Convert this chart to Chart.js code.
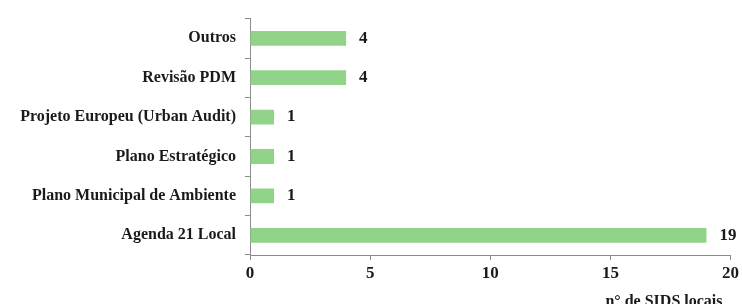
<!DOCTYPE html>
<html>
<head>
<meta charset="utf-8">
<script src="https://cdn.jsdelivr.net/npm/chart.js@4/dist/chart.umd.min.js"></script>
<style>
  html, body { margin: 0; padding: 0; background: #fff; }
  #wrap { width: 742px; height: 304px; }
</style>
</head>
<body>
<div id="wrap"><canvas id="chart"></canvas></div>
<script>
const categories = [
  "Outros",
  "Revisão PDM",
  "Projeto Europeu (Urban Audit)",
  "Plano Estratégico",
  "Plano Municipal de Ambiente",
  "Agenda 21 Local",
];
const counts = [4, 4, 1, 1, 1, 19];
const xTicks = [0, 5, 10, 15, 20];
const axisTitle = "n° de SIDS locais";

const fontFamily = "'Liberation Serif', 'Times New Roman', serif";
const axisGray = "#8c8c8c";

// values printed just right of each bar
const valueLabels = {
  id: "valueLabels",
  afterDatasetsDraw(chart) {
    const ctx = chart.ctx;
    const meta = chart.getDatasetMeta(0);
    ctx.save();
    ctx.font = "bold 17px " + fontFamily;
    ctx.fillStyle = "#1a1a1a";
    ctx.textAlign = "left";
    ctx.textBaseline = "middle";
    meta.data.forEach((bar, i) => {
      ctx.fillText(String(counts[i]), bar.x + 13, bar.y);
    });
    ctx.restore();
  },
};

new Chart(document.getElementById("chart"), {
  type: "bar",
  data: {
    labels: categories,
    datasets: [
      {
        data: counts,
        backgroundColor: "rgb(146, 211, 138)",
        borderWidth: 0,
        barPercentage: 0.375,
        categoryPercentage: 1,
      },
    ],
  },
  options: {
    indexAxis: "y",
    responsive: true,
    maintainAspectRatio: false,
    animation: false,
    layout: { padding: { top: 14, right: 11, left: 0, bottom: 0 } },
    plugins: {
      legend: { display: false },
      tooltip: { enabled: false },
    },
    scales: {
      x: {
        min: 0,
        max: 20,
        afterBuildTicks: (scale) => {
          scale.ticks = xTicks.map((v) => ({ value: v }));
        },
        afterFit: (scale) => {
          scale.height = 49;
        },
        grid: {
          drawOnChartArea: false,
          drawTicks: true,
          tickLength: 5,
          color: axisGray,
        },
        border: { color: axisGray, width: 1 },
        ticks: {
          color: "#1a1a1a",
          padding: 3,
          font: { family: fontFamily, size: 17, weight: "bold" },
        },
        title: {
          display: true,
          text: axisTitle + "  ",
          align: "end",
          color: "#1a1a1a",
          padding: 0,
          font: { family: fontFamily, size: 16, weight: "bold", lineHeight: 0.3 },
        },
      },
      y: {
        afterFit: (scale) => {
          scale.width = 250;
        },
        grid: {
          drawOnChartArea: false,
          drawTicks: true,
          tickLength: 5,
          color: axisGray,
        },
        border: { color: axisGray, width: 1 },
        ticks: {
          color: "#1a1a1a",
          padding: 9,
          font: { family: fontFamily, size: 16, weight: "bold" },
        },
      },
    },
  },
  plugins: [valueLabels],
});
</script>
</body>
</html>
